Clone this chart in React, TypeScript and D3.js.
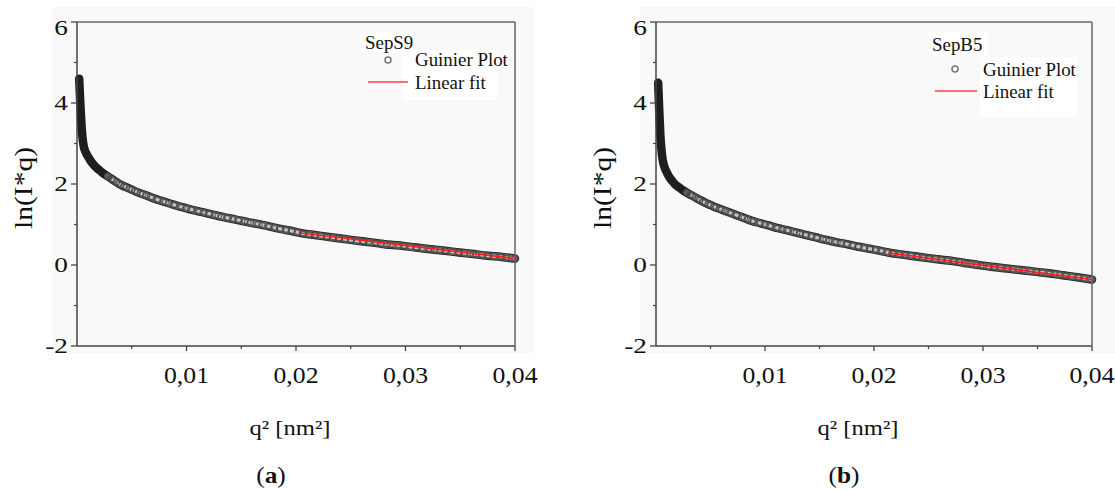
import React from 'react';
import * as d3 from 'd3';

// ---------- data ----------
const q2A = [0.0002, 0.0003, 0.0004, 0.0005, 0.0006, 0.0008, 0.001, 0.0012, 0.0015, 0.0018, 0.0021, 0.0024, 0.0028, 0.0032, 0.0036, 0.004, 0.0045, 0.005, 0.0055, 0.006, 0.0067, 0.0074, 0.0081, 0.0088, 0.0096, 0.0104, 0.0112, 0.012, 0.0129, 0.0138, 0.0147, 0.0156, 0.0166, 0.0176, 0.0186, 0.0196, 0.0206, 0.0217, 0.0228, 0.0239, 0.025, 0.0262, 0.0274, 0.0286, 0.0298, 0.031, 0.0323, 0.0336, 0.0349, 0.0362, 0.0375, 0.0388, 0.04];
const lnA = [4.6, 4.0, 3.5, 3.15, 2.95, 2.78, 2.68, 2.59, 2.48, 2.4, 2.33, 2.26, 2.19, 2.12, 2.05, 1.98, 1.92, 1.86, 1.8, 1.75, 1.68, 1.61, 1.55, 1.49, 1.43, 1.37, 1.32, 1.27, 1.21, 1.16, 1.11, 1.06, 1.01, 0.95, 0.89, 0.84, 0.78, 0.74, 0.7, 0.66, 0.62, 0.58, 0.54, 0.5, 0.47, 0.43, 0.39, 0.35, 0.31, 0.27, 0.23, 0.2, 0.16];

const q2B = [0.0002, 0.0003, 0.0004, 0.0005, 0.0006, 0.0008, 0.001, 0.0012, 0.0015, 0.0018, 0.0021, 0.0024, 0.0028, 0.0032, 0.0036, 0.004, 0.0045, 0.005, 0.0055, 0.006, 0.0067, 0.0074, 0.0081, 0.0088, 0.0096, 0.0104, 0.0112, 0.012, 0.0129, 0.0138, 0.0147, 0.0156, 0.0166, 0.0176, 0.0186, 0.0196, 0.0206, 0.0217, 0.0228, 0.0239, 0.025, 0.0262, 0.0274, 0.0286, 0.0298, 0.031, 0.0323, 0.0336, 0.0349, 0.0362, 0.0375, 0.0388, 0.04];
const lnB = [4.5, 3.8, 3.2, 2.85, 2.62, 2.4, 2.28, 2.18, 2.07, 1.98, 1.92, 1.86, 1.79, 1.73, 1.67, 1.61, 1.54, 1.48, 1.42, 1.37, 1.3, 1.23, 1.16, 1.09, 1.03, 0.97, 0.91, 0.86, 0.8, 0.74, 0.68, 0.62, 0.56, 0.51, 0.45, 0.4, 0.35, 0.29, 0.25, 0.21, 0.17, 0.13, 0.09, 0.04, -0.01, -0.05, -0.09, -0.13, -0.17, -0.21, -0.26, -0.31, -0.36];

const fitQ2A = [0.0204, 0.04];
const fitLnA = [0.79, 0.16];
const fitQ2B = [0.0213, 0.04];
const fitLnB = [0.3, -0.36];

const xTickValues = [0.01, 0.02, 0.03, 0.04];
const xTickLabels = ['0,01', '0,02', '0,03', '0,04'];
const xMinorTicks = [0.005, 0.015, 0.025, 0.035];
const yTickValues = [-2, 0, 2, 4, 6];
const yTickLabels = ['-2', '0', '2', '4', '6'];
const yMinorTicks = [-1, 1, 3, 5];
const sampleNames = ['SepS9', 'SepB5'];
const panelLetters = ['a', 'b'];
const legendLabels = ['Guinier Plot', 'Linear fit'];
const xAxisTitle = 'q² [nm²]';
const yAxisTitle = 'ln(I*q)';

// ---------- layout ----------
const layouts = [
  {
    left: 77, right: 515, top: 22, bottom: 346,
    bg: [52, 7, 483, 346],
    legendBox: [[360, 32, 52, 20], [402, 50, 95, 50]],
    name: [365, 49], marker: [388, 60], gText: [415, 66], fitLine: [368, 408, 82], fText: [415, 89],
    yTitleX: 32, xTitleX: 290, letterX: 271,
  },
  {
    left: 656, right: 1092, top: 22, bottom: 346,
    bg: [640, 7, 475, 346],
    legendBox: [[928, 32, 60, 24], [980, 57, 97, 60]],
    name: [932, 51], marker: [955, 69], gText: [983, 76], fitLine: [935, 977, 91], fText: [983, 98],
    yTitleX: 611, xTitleX: 858, letterX: 844,
  },
];

const SERIF = "'Liberation Serif', 'Times New Roman', Tinos, serif";

function T({ x, y, size, sx = 1.1, anchor = 'start', weight = 'normal', children }: any) {
  return (
    <text
      transform={`translate(${x},${y}) scale(${sx},1)`}
      style={{ fontFamily: SERIF, fontSize: size, fontWeight: weight }}
      textAnchor={anchor}
      fill="#111"
    >
      {children}
    </text>
  );
}

function Panel({ L, q2, ln, fq, fl, name, letter }: any) {
  const x = d3.scaleLinear().domain([0, 0.04]).range([L.left, L.right]);
  const y = d3.scaleLinear().domain([-2, 6]).range([L.bottom, L.top]);
  const pts: [number, number][] = q2.map((q: number, i: number) => [q, ln[i]]);
  const line = d3
    .line<[number, number]>()
    .x((d) => x(d[0]))
    .y((d) => y(d[1]))
    .curve(d3.curveMonotoneX);
  const midPts = pts.filter((d) => d[0] >= 0.0028);
  const lightPts = pts.filter((d) => d[0] >= 0.0032);
  const fitPts: [number, number][] = fq.map((q: number, i: number) => [q, fl[i]]);
  const fitLine = d3.line<[number, number]>().x((d) => x(d[0])).y((d) => y(d[1]));

  return (
    <g>
      <rect x={L.bg[0]} y={L.bg[1]} width={L.bg[2]} height={L.bg[3]} fill="#f9f9f9" />
      {L.legendBox.map((b: number[], i: number) => (
        <rect key={i} x={b[0]} y={b[1]} width={b[2]} height={b[3]} fill="#ffffff" />
      ))}
      {/* data band */}
      <path d={line(pts) || ''} fill="none" stroke="#1e1e1e" strokeWidth={8.5} strokeLinecap="round" strokeLinejoin="round" />
      <path d={line(midPts) || ''} fill="none" stroke="#5a5a5a" strokeWidth={7} strokeLinecap="round" />
      <path d={line(lightPts) || ''} fill="none" stroke="#c4c4c4" strokeWidth={3} strokeDasharray="4 2" />
      {pts.filter((d) => d[0] >= 0.0028).map((d, i) => (
        <circle key={i} cx={x(d[0])} cy={y(d[1])} r={3.4} fill="none" stroke="#3a3a3a" strokeWidth={0.8} />
      ))}
      {/* linear fit */}
      <path d={fitLine(fitPts) || ''} fill="none" stroke="#ff1a1a" strokeWidth={1.6} />

      {/* frame */}
      <line x1={L.left} x2={L.right} y1={L.top} y2={L.top} stroke="#666" strokeWidth={1.5} />
      <line x1={L.right} x2={L.right} y1={L.top} y2={L.bottom} stroke="#666" strokeWidth={1.5} />
      <line x1={L.left} x2={L.left} y1={L.top} y2={L.bottom} stroke="#444" strokeWidth={1.5} />
      <line x1={L.left} x2={L.right} y1={L.bottom} y2={L.bottom} stroke="#444" strokeWidth={1.5} />

      {/* y ticks */}
      {yTickValues.map((v, i) => (
        <g key={'y' + i}>
          <line x1={L.left - 6} x2={L.left} y1={y(v)} y2={y(v)} stroke="#444" strokeWidth={1.3} />
          <T x={L.left - 9} y={y(v) + 7 + (v === 6 ? 6 : 0)} size={21} sx={1.3} anchor="end">
            {yTickLabels[i]}
          </T>
        </g>
      ))}
      {yMinorTicks.map((v, i) => (
        <line key={'ym' + i} x1={L.left - 3} x2={L.left} y1={y(v)} y2={y(v)} stroke="#444" strokeWidth={1.2} />
      ))}
      {/* x ticks */}
      {xTickValues.map((v, i) => (
        <g key={'x' + i}>
          <line x1={x(v)} x2={x(v)} y1={L.bottom} y2={L.bottom + 5} stroke="#444" strokeWidth={1.3} />
          <T x={x(v)} y={383} size={23} sx={1.12} anchor="middle">
            {xTickLabels[i]}
          </T>
        </g>
      ))}
      {xMinorTicks.map((v, i) => (
        <line key={'xm' + i} x1={x(v)} x2={x(v)} y1={L.bottom} y2={L.bottom + 3} stroke="#444" strokeWidth={1.2} />
      ))}

      {/* legend */}
      <T x={L.name[0]} y={L.name[1]} size={18} sx={1.05}>{name}</T>
      <circle cx={L.marker[0]} cy={L.marker[1]} r={3} fill="none" stroke="#777" strokeWidth={1.5} />
      <T x={L.gText[0]} y={L.gText[1]} size={18} sx={1.05}>{legendLabels[0]}</T>
      <line x1={L.fitLine[0]} x2={L.fitLine[1]} y1={L.fitLine[2]} y2={L.fitLine[2]} stroke="#ff4040" strokeWidth={1.6} />
      <T x={L.fText[0]} y={L.fText[1]} size={18} sx={1.05}>{legendLabels[1]}</T>

      {/* axis titles */}
      <text
        transform={`translate(${L.yTitleX},188) rotate(-90)`}
        style={{ fontFamily: SERIF, fontSize: 25 }}
        textAnchor="middle"
        textLength={82}
        lengthAdjust="spacingAndGlyphs"
        fill="#111"
      >
        {yAxisTitle}
      </text>
      <T x={L.xTitleX} y={435} size={22} sx={1.12} anchor="middle">{xAxisTitle}</T>
      <text
        transform={`translate(${L.letterX},483) scale(1.1,1)`}
        style={{ fontFamily: SERIF, fontSize: 23 }}
        textAnchor="middle"
        fill="#111"
      >
        (<tspan fontWeight="bold">{letter}</tspan>)
      </text>
    </g>
  );
}

export default function App() {
  return (
    <svg
      width={1115}
      height={490}
      viewBox="0 0 1115 490"
      style={{ position: 'absolute', left: 0, top: 0, background: '#fff' }}
    >
      <rect x={0} y={0} width={1115} height={490} fill="#fff" />
      <Panel L={layouts[0]} q2={q2A} ln={lnA} fq={fitQ2A} fl={fitLnA} name={sampleNames[0]} letter={panelLetters[0]} />
      <Panel L={layouts[1]} q2={q2B} ln={lnB} fq={fitQ2B} fl={fitLnB} name={sampleNames[1]} letter={panelLetters[1]} />
    </svg>
  );
}
